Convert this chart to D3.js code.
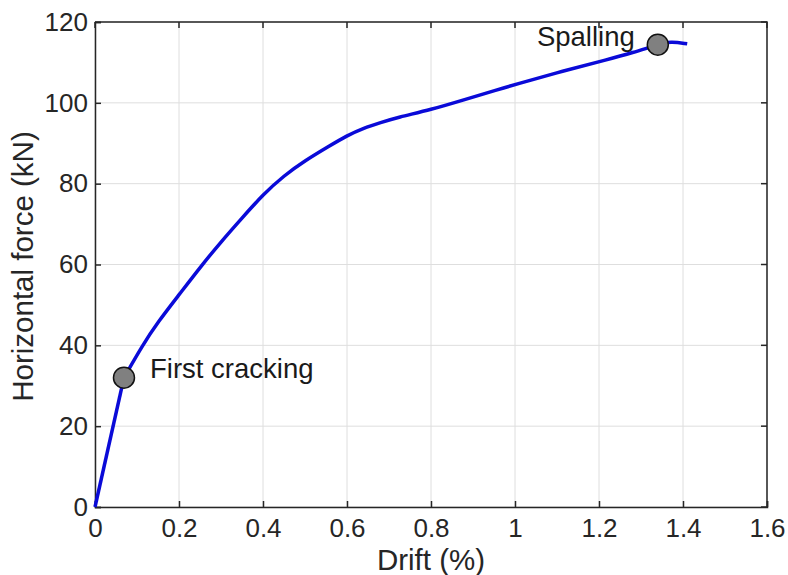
<!DOCTYPE html>
<html>
<head>
<meta charset="utf-8">
<script src="https://cdn.jsdelivr.net/npm/d3@7"></script>
<style>
  body { margin: 0; background: #fff; }
  svg { display: block; font-family: "Liberation Sans", Arial, sans-serif; }
</style>
</head>
<body>
<div id="chart"></div>
<script>
// curve (first point pair is the straight elastic part)
const drift = [0, 0.069, 0.113, 0.15, 0.2, 0.254, 0.3, 0.35, 0.4, 0.45, 0.5, 0.556, 0.6, 0.64, 0.68, 0.72, 0.8, 0.88, 0.96, 1.0, 1.115, 1.22, 1.28, 1.34, 1.37, 1.41];
const force = [0, 32, 40, 45.8, 52.5, 59.8, 65.6, 71.5, 77.3, 82, 85.7, 89.2, 91.9, 93.8, 95.1, 96.4, 98.3, 100.8, 103.3, 104.5, 107.9, 110.7, 112.4, 114.4, 115.2, 114.6];

const events = ["First cracking", "Spalling"];
const eventDrift = [0.069, 1.34];
const eventForce = [32, 114.4];

const xTicks = [0, 0.2, 0.4, 0.6, 0.8, 1, 1.2, 1.4, 1.6];
const yTicks = [0, 20, 40, 60, 80, 100, 120];

const width = 788, height = 575;
const margin = {top: 22, right: 21, bottom: 68, left: 95};

const x = d3.scaleLinear().domain([0, 1.6]).range([margin.left, width - margin.right]);
const y = d3.scaleLinear().domain([0, 120]).range([height - margin.bottom, margin.top]);

const svg = d3.select("#chart").append("svg")
    .attr("width", width)
    .attr("height", height);

// grid
svg.append("g")
    .attr("stroke", "#dedede")
    .attr("stroke-width", 1)
    .selectAll("line")
    .data(xTicks)
    .join("line")
    .attr("x1", d => x(d)).attr("x2", d => x(d))
    .attr("y1", y(0)).attr("y2", y(120));

svg.append("g")
    .attr("stroke", "#dedede")
    .attr("stroke-width", 1)
    .selectAll("line")
    .data(yTicks)
    .join("line")
    .attr("y1", d => y(d)).attr("y2", d => y(d))
    .attr("x1", x(0)).attr("x2", x(1.6));

// axes, ticks pointing in (matlab style)
const xAxis = svg.append("g")
    .attr("transform", `translate(0,${y(0)})`)
    .call(d3.axisBottom(x).tickValues(xTicks).tickSize(-6).tickPadding(12).tickFormat(d3.format("")));
const yAxis = svg.append("g")
    .attr("transform", `translate(${x(0)},0)`)
    .call(d3.axisLeft(y).tickValues(yTicks).tickSize(-6).tickPadding(7));

[xAxis, yAxis].forEach(g => {
    g.select(".domain").attr("stroke", "#262626").attr("stroke-width", 1.5);
    g.selectAll(".tick line").attr("stroke", "#262626").attr("stroke-width", 1.5);
    g.selectAll(".tick text")
        .attr("fill", "#262626")
        .style("font-size", "26px")
        .style("font-family", "'Liberation Sans', Arial, sans-serif");
});
xAxis.selectAll(".tick text").attr("dy", "0.71em");

// top and right box edges
svg.append("path")
    .attr("fill", "none")
    .attr("stroke", "#262626")
    .attr("stroke-width", 1.5)
    .attr("d", `M${x(0)},${y(120)}H${x(1.6)}V${y(0)}`);

// inward ticks on top/right too
svg.append("g")
    .attr("stroke", "#262626").attr("stroke-width", 1.5)
    .selectAll("line")
    .data(xTicks)
    .join("line")
    .attr("x1", d => x(d)).attr("x2", d => x(d))
    .attr("y1", y(120)).attr("y2", y(120) + 6);
svg.append("g")
    .attr("stroke", "#262626").attr("stroke-width", 1.5)
    .selectAll("line")
    .data(yTicks)
    .join("line")
    .attr("y1", d => y(d)).attr("y2", d => y(d))
    .attr("x1", x(1.6)).attr("x2", x(1.6) - 6);

// curve: straight up to first cracking, smooth after
const pts = drift.map((d, i) => [d, force[i]]);
const lineStraight = d3.line().x(d => x(d[0])).y(d => y(d[1]));
const lineSmooth = d3.line().x(d => x(d[0])).y(d => y(d[1])).curve(d3.curveBasis);

svg.append("path")
    .datum(pts.slice(0, 2))
    .attr("fill", "none")
    .attr("stroke", "#0a0ad8")
    .attr("stroke-width", 3.5)
    .attr("d", lineStraight);

svg.append("path")
    .datum(pts.slice(1))
    .attr("fill", "none")
    .attr("stroke", "#0a0ad8")
    .attr("stroke-width", 3.5)
    .attr("stroke-linejoin", "round")
    .attr("d", lineSmooth);

// event markers
svg.append("g")
    .selectAll("circle")
    .data(events)
    .join("circle")
    .attr("cx", (d, i) => x(eventDrift[i]))
    .attr("cy", (d, i) => y(eventForce[i]))
    .attr("r", 10.5)
    .attr("fill", "#808080")
    .attr("stroke", "#111")
    .attr("stroke-width", 1.5);

svg.append("text")
    .attr("x", x(eventDrift[0]) + 26)
    .attr("y", 378)
    .attr("fill", "#1a1a1a")
    .style("font-size", "27.5px")
    .text(events[0]);

svg.append("text")
    .attr("x", x(eventDrift[1]) - 23)
    .attr("y", 46)
    .attr("text-anchor", "end")
    .attr("fill", "#1a1a1a")
    .style("font-size", "27.5px")
    .text(events[1]);

// axis labels
svg.append("text")
    .attr("x", (x(0) + x(1.6)) / 2)
    .attr("y", 570)
    .attr("text-anchor", "middle")
    .attr("fill", "#262626")
    .style("font-size", "29.5px")
    .text("Drift (%)");

svg.append("text")
    .attr("transform", `translate(33,${(y(0) + y(120)) / 2 + 2}) rotate(-90)`)
    .attr("text-anchor", "middle")
    .attr("fill", "#262626")
    .style("font-size", "29.5px")
    .text("Horizontal force (kN)");
</script>
</body>
</html>
